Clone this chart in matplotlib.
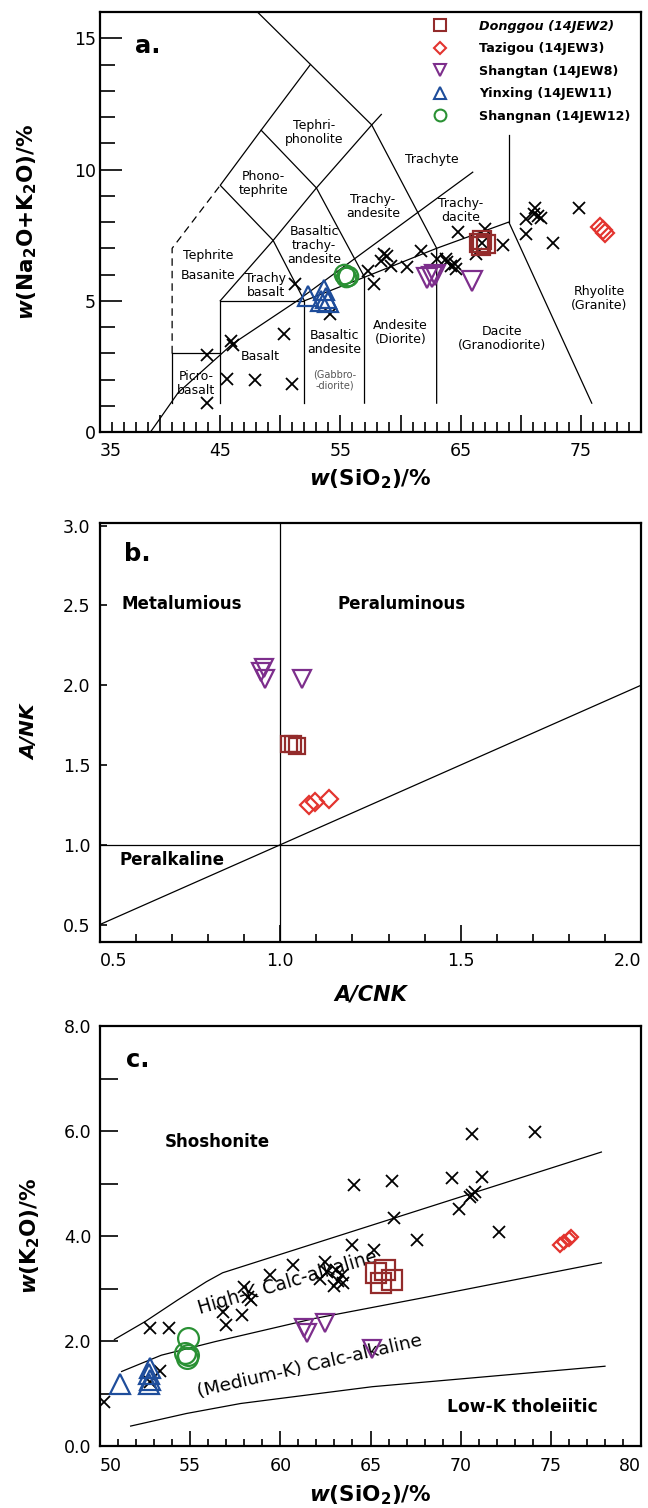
# Diagrammes géochimiques : TAS (a), A/NK - A/CNK (b) et K2O - SiO2 (c)
import matplotlib
matplotlib.use('Agg')
import matplotlib.pyplot as plt
from matplotlib.ticker import MultipleLocator, FuncFormatter
from matplotlib.lines import Line2D

plt.rcParams['font.family'] = ['DejaVu Sans']
plt.rcParams['mathtext.fontset'] = 'custom'
plt.rcParams['mathtext.rm'] = 'DejaVu Sans:bold'
plt.rcParams['mathtext.it'] = 'DejaVu Sans:italic:bold'
plt.rcParams['mathtext.bf'] = 'DejaVu Sans:bold'

# Groupes d'échantillons
noms = ['Donggou (14JEW2)', 'Tazigou (14JEW3)', 'Shangtan (14JEW8)',
        'Yinxing (14JEW11)', 'Shangnan (14JEW12)']
couleurs = ['#932B2B', '#E3342F', '#7D2E8C', '#1E4D9B', '#2A9134']
marqueurs = ['s', 'D', 'v', '^', 'o']

# ---- (a) TAS : SiO2 / Na2O+K2O ----
tas_sio2 = {
    'Donggou': [66.5, 66.8, 67.1, 66.7],
    'Tazigou': [76.6, 76.8, 77.0],
    'Shangtan': [62.2, 62.6, 62.9, 65.9],
    'Yinxing': [52.3, 53.6, 53.8, 54.0, 53.4],
    'Shangnan': [55.3, 55.6, 55.5],
}
tas_alcalins = {
    'Donggou': [7.2, 7.3, 7.15, 7.1],
    'Tazigou': [7.8, 7.7, 7.6],
    'Shangtan': [5.85, 5.9, 6.0, 5.75],
    'Yinxing': [5.2, 5.4, 5.1, 4.95, 5.0],
    'Shangnan': [6.02, 5.96, 5.9],
}
# données de la littérature (croix)
tas_ref_sio2 = [43.9, 43.9, 45.6, 47.9, 51.0, 50.3, 45.9, 46.1, 51.2, 54.1, 57.3,
                57.8, 58.4, 58.9, 59.2, 58.6, 60.5, 61.7, 63.0, 63.8, 63.9, 64.2,
                64.5, 64.6, 64.8, 66.3, 66.8, 67.0, 68.5, 70.4, 70.4, 71.1, 71.2,
                71.4, 71.7, 72.7, 74.8]
tas_ref_alcalins = [2.93, 1.10, 2.02, 2.0, 1.83, 3.75, 3.45, 3.3, 5.64, 4.5, 6.15,
                    5.64, 6.53, 6.72, 6.34, 6.8, 6.28, 6.9, 6.6, 6.6, 6.47, 6.34,
                    6.4, 6.2, 7.63, 6.78, 7.2, 7.73, 7.13, 7.54, 8.1, 8.3, 8.55,
                    8.23, 8.17, 7.22, 8.55]

# limites des champs (Le Bas et al.)
tas_limites = [
    [(41, 3), (41, 1.1)],
    [(41, 3), (45, 3)],
    [(45, 1.1), (45, 5), (52, 5), (52, 1.1)],
    [(45, 5), (49.4, 7.3), (53, 9.3), (57.6, 11.7), (58.4, 12.1)],
    [(52, 5), (49.4, 7.3), (45, 9.4), (48.4, 11.5), (53, 9.3), (57, 5.9), (57, 1.1)],
    [(52, 5), (57, 5.9), (63, 7), (69, 8), (75.9, 1.1)],
    [(63, 1.1), (63, 7), (57.6, 11.7), (48.1, 16)],
    [(48.4, 11.5), (52.5, 14)],
    [(69, 8), (69, 11.3)],
    [(39.2, 0), (41.5, 1.5), (46, 3.35), (51.4, 5.0), (66, 9.9)],
]
tas_pointilles = [[(41, 3), (41, 7), (45, 9.4)]]

tas_champs = [
    ('Tephri-\nphonolite', 52.8, 11.4), ('Phono-\ntephrite', 48.6, 9.45),
    ('Trachyte', 62.6, 10.4), ('Trachy-\nandesite', 57.7, 8.6),
    ('Trachy-\ndacite', 65.0, 8.45), ('Basaltic\ntrachy-\nandesite', 52.8, 7.1),
    ('Trachy\nbasalt', 48.8, 5.57), ('Basalt', 48.3, 2.87),
    ('Picro-\nbasalt', 43.0, 1.86), ('Basaltic\nandesite', 54.5, 3.4),
    ('Andesite\n(Diorite)', 60.0, 3.8), ('Dacite\n(Granodiorite)', 68.4, 3.56),
    ('Rhyolite\n(Granite)', 76.5, 5.07),
]

# ---- (b) A/NK - A/CNK ----
acnk = {
    'Donggou': [1.025, 1.035, 1.045],
    'Tazigou': [1.08, 1.095, 1.135],
    'Shangtan': [0.955, 0.945, 0.958, 1.06],
}
ank = {
    'Donggou': [1.63, 1.63, 1.62],
    'Tazigou': [1.25, 1.27, 1.285],
    'Shangtan': [2.11, 2.08, 2.04, 2.04],
}

# ---- (c) K2O - SiO2 ----
k_sio2 = {
    'Donggou': [65.3, 65.8, 66.2, 65.6],
    'Tazigou': [75.5, 75.7, 76.0, 76.1],
    'Shangtan': [61.3, 61.5, 62.5, 65.1],
    'Yinxing': [51.1, 52.8, 52.7, 52.8, 52.7],
    'Shangnan': [54.9, 54.7, 54.9, 54.8],
}
k_k2o = {
    'Donggou': [3.29, 3.35, 3.16, 3.10],
    'Tazigou': [3.83, 3.89, 3.95, 3.98],
    'Shangtan': [2.25, 2.15, 2.35, 1.85],
    'Yinxing': [1.19, 1.48, 1.38, 1.26, 1.19],
    'Shangnan': [2.05, 1.77, 1.73, 1.67],
}
k_ref_sio2 = [50.2, 52.8, 53.8, 52.8, 53.3, 56.8, 57.0, 57.9, 58.0, 58.2, 58.4,
              59.4, 60.7, 62.2, 62.5, 62.6, 63.0, 63.2, 63.4, 63.5, 63.1, 64.0,
              64.1, 65.2, 66.2, 66.3, 67.6, 69.5, 69.9, 70.5, 70.6, 70.8, 71.2,
              70.6, 72.1, 74.1]
k_ref_k2o = [0.83, 2.24, 2.24, 1.22, 1.42, 2.56, 2.30, 2.50, 3.03, 2.84, 2.78,
             3.26, 3.45, 3.19, 3.51, 3.32, 3.05, 3.15, 3.25, 3.10, 3.35, 3.83,
             4.98, 3.73, 5.05, 4.34, 3.92, 5.10, 4.51, 4.75, 4.78, 4.84, 5.13,
             5.94, 4.07, 5.99]
# limites de Peccerillo & Taylor
k_limites = [
    [(50.8, 2.03), (52.5, 2.37), (54.3, 2.78), (55.9, 3.13), (56.8, 3.3), (77.8, 5.6)],
    [(51.2, 1.42), (53.4, 1.73), (56.4, 1.99), (61.9, 2.43), (67.7, 2.81), (77.8, 3.49)],
    [(51.7, 0.38), (54.8, 0.62), (57.8, 0.81), (65.1, 1.13), (78, 1.52)],
]

groupes = ['Donggou', 'Tazigou', 'Shangtan', 'Yinxing', 'Shangnan']
style = dict(zip(groupes, zip(couleurs, marqueurs)))


def tracer_segments(ax, segments, **kw):
    for seg in segments:
        xs = [p[0] for p in seg]
        ys = [p[1] for p in seg]
        ax.plot(xs, ys, color='black', lw=0.9, **kw)


def tracer_groupes(ax, xs, ys, tailles, mew=1.6):
    for g in groupes:
        if g not in xs:
            continue
        c, m = style[g]
        ax.plot(xs[g], ys[g], linestyle='none', marker=m, ms=tailles[g],
                mfc='none', mec=c, mew=mew, zorder=4)


def habiller(ax):
    for s in ax.spines.values():
        s.set_linewidth(1.6)
    ax.tick_params(which='both', direction='in', width=1.2, top=False, right=False,
                   labelsize=12.5)


fig = plt.figure(figsize=(6.48, 15.08), dpi=100)

# ===================== (a) =====================
ax_a = ax = fig.add_axes([0.1543, 0.7135, 0.835, 0.2785])
tracer_segments(ax, tas_limites)
tracer_segments(ax, tas_pointilles, linestyle=(0, (6, 4)))
ax.plot(tas_ref_sio2, tas_ref_alcalins, 'x', color='black', ms=8.5, mew=1.3, zorder=3)
tracer_groupes(ax, tas_sio2, tas_alcalins,
               {'Donggou': 13, 'Tazigou': 8.7, 'Shangtan': 14, 'Yinxing': 14, 'Shangnan': 14})
for txt, x, y in tas_champs:
    ax.text(x, y, txt, ha='center', va='center', fontsize=9, linespacing=1.1)
ax.text(44.0, 6.36, 'Tephrite\nBasanite', ha='center', va='center', fontsize=9,
        linespacing=1.7)
ax.text(54.5, 1.97, '(Gabbro-\n-diorite)', ha='center', va='center', fontsize=7,
        color='#555555', linespacing=1.15)
ax.text(39.0, 14.7, 'a.', fontsize=17.5, fontweight='bold', ha='center', va='center')

ax.set_xlim(35, 80)
ax.set_ylim(0, 16)
habiller(ax)
ax.xaxis.set_major_locator(MultipleLocator(5))
ax.xaxis.set_minor_locator(MultipleLocator(1))
ax.xaxis.set_major_formatter(FuncFormatter(lambda v, p: f'{v:.0f}' if round(v) % 10 == 5 else ''))
ax.yaxis.set_major_locator(MultipleLocator(5))
ax.yaxis.set_minor_locator(MultipleLocator(1))
ax.tick_params(axis='x', which='major', length=12, pad=7)
ax.tick_params(axis='x', which='minor', length=7)
ax.tick_params(axis='y', which='major', length=16, pad=3)
ax.tick_params(axis='y', which='minor', length=11)
ax.set_xlabel(r'$w$(SiO$_2$)/%', fontsize=15.5, fontweight='bold')
ax.set_ylabel(r'$w$(Na$_2$O+K$_2$O)/%', fontsize=15.5, fontweight='bold')
ax.xaxis.set_label_coords(0.5, -0.083)
ax.yaxis.set_label_coords(-0.113, 0.5)

# légende
poignees = []
for g, nom in zip(groupes, noms):
    c, m = style[g]
    poignees.append(Line2D([], [], linestyle='none', marker=m, mfc='none', mec=c,
                           mew=1.5, ms=6.5 if m == 'D' else 8.5))
leg = ax.legend(poignees, noms, loc='upper left', bbox_to_anchor=(0.616, 0.982),
                frameon=False, borderpad=0, borderaxespad=0, handlelength=1.0,
                handletextpad=2.6, labelspacing=0.75, prop={'size': 9.2, 'weight': 'bold'})
leg.get_texts()[0].set_style('italic')

# ===================== (b) =====================
ax_b = ax = fig.add_axes([0.1543, 0.3753, 0.835, 0.2782])
ax.axvline(1.0, color='black', lw=0.9)
ax.axhline(1.0, color='black', lw=0.9)
ax.plot([0.5, 2.0], [0.5, 2.0], color='black', lw=0.9)
tracer_groupes(ax, acnk, ank, {'Donggou': 12, 'Tazigou': 9.5, 'Shangtan': 13.5})
ax.text(0.603, 2.825, 'b.', fontsize=17.5, fontweight='bold', ha='center', va='center')
ax.text(0.727, 2.51, 'Metalumious', fontsize=12, fontweight='bold', ha='center', va='center')
ax.text(1.336, 2.51, 'Peraluminous', fontsize=12, fontweight='bold', ha='center', va='center')
ax.text(0.70, 0.906, 'Peralkaline', fontsize=12, fontweight='bold', ha='center', va='center')
ax.set_xlim(0.5, 2.0)
ax.set_ylim(0.39, 3.02)
habiller(ax)
ax.xaxis.set_major_locator(MultipleLocator(0.5))
ax.xaxis.set_minor_locator(MultipleLocator(0.1))
ax.yaxis.set_major_locator(MultipleLocator(0.5))
ax.xaxis.set_major_formatter(FuncFormatter(lambda v, p: f'{v:.1f}'))
ax.yaxis.set_major_formatter(FuncFormatter(lambda v, p: f'{v:.1f}'))
ax.tick_params(axis='x', which='major', length=12, pad=7)
ax.tick_params(axis='x', which='minor', length=6)
ax.tick_params(axis='y', which='major', length=5, pad=7)
ax.set_xlabel('A/CNK', fontsize=15, fontweight='bold', fontstyle='italic')
ax.set_ylabel('A/NK', fontsize=14.5, fontweight='bold', fontstyle='italic')
ax.xaxis.set_label_coords(0.5, -0.1)
ax.yaxis.set_label_coords(-0.113, 0.5)

# ===================== (c) =====================
ax_c = ax = fig.add_axes([0.1543, 0.0411, 0.835, 0.2785])
tracer_segments(ax, k_limites)
ax.plot(k_ref_sio2, k_ref_k2o, 'x', color='black', ms=9, mew=1.3, zorder=3)
tracer_groupes(ax, k_sio2, k_k2o,
               {'Donggou': 15, 'Tazigou': 7, 'Shangtan': 13.5, 'Yinxing': 15, 'Shangnan': 15})
ax.text(52.07, 7.35, 'c.', fontsize=17.5, fontweight='bold', ha='center', va='center')
ax.text(56.5, 5.8, 'Shoshonite', fontsize=12, fontweight='bold', ha='center', va='center')
ax.text(73.4, 0.75, 'Low-K tholeiitic', fontsize=12.3, fontweight='bold', ha='center', va='center')
ax.text(60.4, 3.11, 'High-K Calc-alkaline', fontsize=13.4, ha='center', va='center',
        rotation=16.4, rotation_mode='anchor')
ax.text(61.6, 1.51, '(Medium-K) Calc-alkaline', fontsize=13.3, ha='center', va='center',
        rotation=13, rotation_mode='anchor')
ax.set_xlim(50, 80)
ax.set_ylim(0, 8)
habiller(ax)
ax.xaxis.set_major_locator(MultipleLocator(5))
ax.xaxis.set_minor_locator(MultipleLocator(1))
ax.yaxis.set_major_locator(MultipleLocator(1))
ax.yaxis.set_major_formatter(FuncFormatter(lambda v, p: f'{v:.1f}' if round(v) % 2 == 0 else ''))
ax.tick_params(axis='x', which='major', length=11, pad=8)
ax.tick_params(axis='x', which='minor', length=5)
ax.tick_params(axis='y', which='major', length=13, pad=6)
ax.set_xlabel(r'$w$(SiO$_2$)/%', fontsize=15.5, fontweight='bold')
ax.set_ylabel(r'$w$(K$_2$O)/%', fontsize=15.5, fontweight='bold')
ax.xaxis.set_label_coords(0.5, -0.09)
ax.yaxis.set_label_coords(-0.107, 0.5)

# les étiquettes aux extrémités de l'axe x restent dans le cadre
fig.canvas.draw()
for axe, gauche, droite in [(ax_a, '35', None), (ax_b, '0.5', '2.0'), (ax_c, '50', '80')]:
    for t in axe.get_xticklabels():
        if t.get_text() == gauche:
            t.set_horizontalalignment('left')
        elif t.get_text() == droite:
            t.set_horizontalalignment('right')

fig.savefig('out.png', dpi=100)
